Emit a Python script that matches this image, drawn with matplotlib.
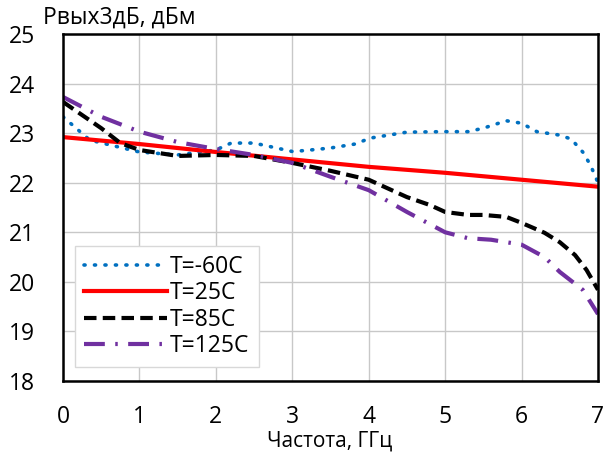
import matplotlib
matplotlib.use("Agg")
import matplotlib.pyplot as plt

plt.rcParams['font.family'] = ['Open Sans', 'DejaVu Sans']

x_m60 = [0, 0.35, 1.0, 1.5, 2.0, 2.2, 2.5, 3.0, 3.17, 3.5, 3.82, 4.02, 4.5, 5.0, 5.3, 5.5, 5.8, 6.0, 6.2, 6.5, 6.65, 6.8, 6.9, 7.0]
y_m60 = [23.33, 22.86, 22.62, 22.56, 22.66, 22.8, 22.8, 22.63, 22.65, 22.7, 22.78, 22.9, 23.02, 23.03, 23.03, 23.1, 23.25, 23.2, 23.03, 22.96, 22.88, 22.62, 22.36, 22.0]

x_25 = [0, 1, 2, 3, 4, 5, 6, 7]
y_25 = [22.92, 22.78, 22.62, 22.47, 22.32, 22.2, 22.06, 21.92]

x_85 = [0, 0.5, 0.75, 1.0, 1.5, 2.0, 2.5, 3.0, 3.5, 4.0, 4.5, 4.8, 5.0, 5.3, 5.5, 5.8, 6.0, 6.3, 6.5, 6.7, 6.85, 7.0]
y_85 = [23.63, 23.1, 22.8, 22.66, 22.54, 22.56, 22.54, 22.4, 22.24, 22.06, 21.71, 21.55, 21.41, 21.35, 21.35, 21.31, 21.19, 20.99, 20.8, 20.54, 20.24, 19.84]

x_125 = [0, 0.5, 1.0, 1.5, 2.0, 2.5, 3.0, 3.5, 4.0, 4.5, 5.0, 5.3, 5.6, 6.0, 6.3, 6.5, 6.8, 7.0]
y_125 = [23.73, 23.33, 23.03, 22.82, 22.68, 22.56, 22.4, 22.12, 21.85, 21.41, 21.0, 20.88, 20.85, 20.75, 20.5, 20.2, 19.84, 19.35]

labels = ['T=-60C', 'T=25C', 'T=85C', 'T=125C']

fig = plt.figure(figsize=(6.05, 4.53), dpi=100)
ax = fig.add_axes([63/605, 1 - 381/453, (598-63)/605, (381-34)/453])

ax.plot(x_m60, y_m60, color='#0070C0', linestyle=(0, (0.3, 2.6)), linewidth=2.6,
        dash_capstyle='round', solid_capstyle='round', label=labels[0])
ax.plot(x_25, y_25, color='#FF0000', linestyle='-', linewidth=3.0, label=labels[1])
ax.plot(x_85, y_85, color='black', linestyle=(0, (3, 1.5)), linewidth=3.0, label=labels[2])
ax.plot(x_125, y_125, color='#7030A0', linestyle=(0, (5, 2.5, 0.6, 2.5)), linewidth=3.0, label=labels[3])

ax.set_xlim(0, 7)
ax.set_ylim(18, 25)
ax.set_xticks(range(0, 8))
ax.set_yticks(range(18, 26))
ax.grid(True, color='#c8c8c8', linewidth=1.0)
ax.set_axisbelow(True)
for s in ax.spines.values():
    s.set_linewidth(1.8)
    s.set_color('black')
ax.tick_params(axis='both', length=0, labelsize=16.5)
ax.tick_params(axis='y', pad=20)
ax.tick_params(axis='x', pad=17)

fig.text(43/605, 1 - 18/453, 'Рвых3дБ, дБм', fontsize=16.5, ha='left', va='center')
fig.text(330/605, 1 - 441/453, 'Частота, ГГц', fontsize=15, ha='center', va='center')

leg = ax.legend(loc='lower left', bbox_to_anchor=(12/535, 14/347), fontsize=16.5,
                frameon=True, fancybox=False, edgecolor='#d8d8d8', framealpha=1,
                handlelength=3.6, handletextpad=0.15, labelspacing=0.1, borderpad=0.4,
                borderaxespad=0.0)
leg.get_frame().set_linewidth(1.0)

fig.savefig('out.png', dpi=100)
